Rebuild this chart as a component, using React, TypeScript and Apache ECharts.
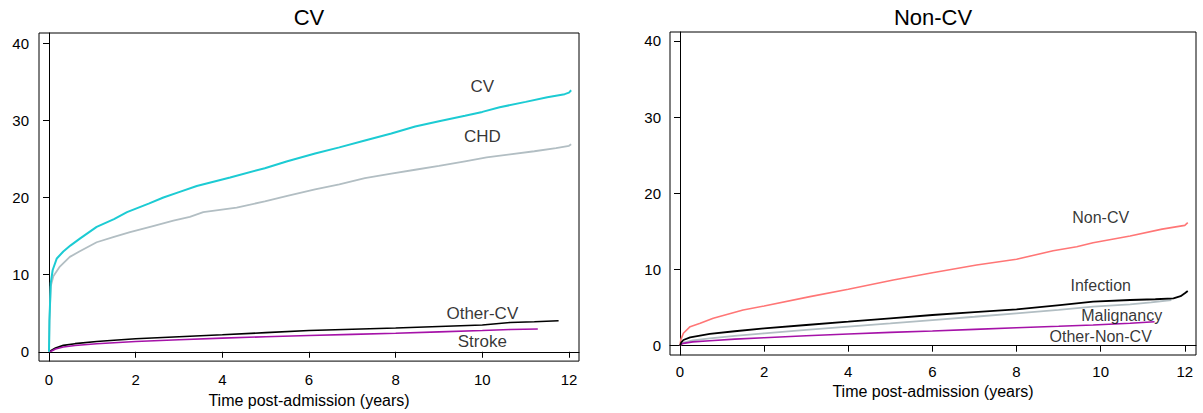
import React, { useEffect, useRef } from "react";
import * as echarts from "echarts";

// ---- Data (cumulative incidence, %) ----
const xTicks = [0, 2, 4, 6, 8, 10, 12];
const yTicks = [0, 10, 20, 30, 40];

// Left panel: CV
const cvT = [0, 0.01, 0.04, 0.085, 0.18, 0.33, 0.5, 0.72, 1.1, 1.5, 1.8, 2.3, 2.64, 3.0, 3.41, 4.18, 4.98, 5.5, 6.14, 6.7, 7.29, 7.9, 8.45, 9.0, 9.6, 10.0, 10.4, 11.0, 11.5, 11.9, 12.0, 12.05];
const cvV = [0, 4.0, 8.9, 10.6, 12.1, 13.0, 13.8, 14.7, 16.2, 17.2, 18.1, 19.2, 20.0, 20.7, 21.5, 22.6, 23.8, 24.7, 25.7, 26.5, 27.4, 28.3, 29.2, 29.9, 30.6, 31.1, 31.7, 32.4, 33.0, 33.4, 33.6, 33.9];
const chdT = [0, 0.01, 0.04, 0.1, 0.25, 0.48, 0.7, 1.1, 1.5, 1.87, 2.4, 2.87, 3.25, 3.56, 4.33, 4.98, 5.5, 6.14, 6.7, 7.29, 7.9, 8.45, 9.0, 9.6, 10.1, 10.64, 11.2, 11.7, 12.0, 12.05];
const chdV = [0, 4.0, 8.5, 9.8, 11.05, 12.3, 13.0, 14.2, 14.9, 15.5, 16.3, 17.0, 17.5, 18.1, 18.7, 19.5, 20.2, 21.05, 21.7, 22.5, 23.1, 23.6, 24.1, 24.7, 25.2, 25.6, 26.0, 26.4, 26.7, 26.9];
const otherCvT = [0, 0.06, 0.15, 0.33, 0.6, 1.1, 1.5, 2, 3, 4, 5, 6, 7, 8, 9, 10, 10.64, 11.2, 11.76];
const otherCvV = [0, 0.2, 0.5, 0.83, 1.05, 1.34, 1.5, 1.68, 1.95, 2.2, 2.48, 2.75, 2.92, 3.09, 3.28, 3.47, 3.8, 3.9, 4.02];
const strokeT = [0, 0.06, 0.15, 0.33, 0.6, 1.1, 2, 3, 4, 5, 6, 7, 8, 9, 10, 10.64, 11.28];
const strokeV = [0, 0.1, 0.35, 0.61, 0.82, 1.04, 1.34, 1.55, 1.77, 1.95, 2.1, 2.25, 2.4, 2.58, 2.75, 2.88, 2.96];

// Right panel: Non-CV
const nonCvT = [0, 0.02, 0.08, 0.24, 0.48, 0.79, 1.5, 2, 3.09, 4, 5.07, 6, 7.05, 8, 8.87, 9.43, 9.82, 10.7, 11.46, 12.0, 12.07];
const nonCvV = [0, 0.8, 1.63, 2.5, 2.94, 3.6, 4.69, 5.21, 6.44, 7.4, 8.62, 9.58, 10.6, 11.34, 12.47, 13.0, 13.52, 14.4, 15.3, 15.8, 16.15];
const infT = [0, 0.03, 0.08, 0.24, 0.71, 1.3, 2, 3, 4, 5, 6, 7, 8, 9.03, 9.82, 10.7, 11.3, 11.73, 11.9, 12.0, 12.07];
const infV = [0, 0.45, 0.75, 1.1, 1.54, 1.9, 2.28, 2.72, 3.15, 3.6, 4.03, 4.4, 4.78, 5.34, 5.78, 6.0, 6.1, 6.22, 6.5, 6.88, 7.18];
const malT = [0, 0.03, 0.08, 0.3, 0.71, 1.3, 2, 3, 4, 5, 6, 7, 8, 9, 9.82, 10.7, 11.2, 11.68];
const malV = [0, 0.25, 0.4, 0.7, 0.97, 1.3, 1.63, 2.07, 2.5, 2.93, 3.37, 3.8, 4.25, 4.7, 5.12, 5.43, 5.7, 6.0];
const othNcT = [0, 0.03, 0.08, 0.3, 0.71, 1.3, 2, 3, 4, 5, 6, 7, 8, 9, 9.82, 10.7, 11.28];
const othNcV = [0, 0.18, 0.31, 0.5, 0.66, 0.86, 1.05, 1.3, 1.54, 1.75, 1.93, 2.15, 2.36, 2.55, 2.72, 2.94, 3.15];

// In-plot curve labels [time, value]
const leftLabels = ["CV", "CHD", "Other-CV", "Stroke"];
const leftLabelPos = [[10, 34.4], [10, 27.9], [10, 4.9], [10, 1.3]];
const rightLabels = ["Non-CV", "Infection", "Malignancy", "Other-Non-CV"];
const rightLabelPos = [[10, 16.86], [10, 7.84], [10.5, 4.03], [10, 1.27]];

const FONT = "'Liberation Sans', Arial, Helvetica, sans-serif";

const zip = (t: number[], v: number[]) => t.map((x, i) => [x, v[i]]);

export default function App() {
  const ref = useRef<HTMLDivElement>(null);
  useEffect(() => {
    document.body.style.margin = "0";
    if (!ref.current) return;
    const chart = echarts.init(ref.current, null, { renderer: "svg" });

    const xAxisBase = (gridIndex: number, min: number, max: number, gap: number, margin: number) => ({
      type: "value",
      gridIndex,
      min,
      max,
      name: "Time post-admission (years)",
      nameLocation: "middle",
      nameGap: gap,
      nameTextStyle: { fontSize: 16, color: "#000", fontFamily: FONT },
      axisLine: { show: true, lineStyle: { color: "#000", width: 1 } },
      axisTick: { show: true, length: 6, lineStyle: { color: "#000" }, customValues: xTicks },
      axisLabel: { fontSize: 15, color: "#000", fontFamily: FONT, margin, customValues: xTicks },
      splitLine: { show: false },
    });
    const yAxisBase = (gridIndex: number, min: number, max: number, margin: number) => ({
      type: "value",
      gridIndex,
      min,
      max,
      axisLine: { show: true, lineStyle: { color: "#000", width: 1 } },
      axisTick: { show: true, length: 6, lineStyle: { color: "#000" }, customValues: yTicks },
      axisLabel: { fontSize: 15, color: "#000", fontFamily: FONT, margin, customValues: yTicks },
      splitLine: { show: false },
    });

    const line = (name: string, t: number[], v: number[], color: string, idx: number, width = 1.6) => ({
      type: "line",
      name,
      xAxisIndex: idx,
      yAxisIndex: idx,
      data: zip(t, v),
      showSymbol: false,
      symbol: "none",
      lineStyle: { color, width },
      itemStyle: { color },
      z: 3,
    });

    const labelSeries = (names: string[], pos: number[][], idx: number, fontSize: number) => ({
      type: "scatter",
      xAxisIndex: idx,
      yAxisIndex: idx,
      symbolSize: 1,
      itemStyle: { color: "rgba(0,0,0,0)" },
      data: pos.map((p, i) => ({ value: p, name: names[i] })),
      label: {
        show: true,
        position: "inside",
        formatter: (p: any) => p.name,
        color: "#000",
        fontSize,
        fontFamily: FONT,
      },
      silent: true,
      z: 5,
    });

    chart.setOption({
      animation: false,
      backgroundColor: "#fff",
      title: [
        { text: "CV", left: 309, top: 6, textAlign: "left", padding: 0, textStyle: { fontSize: 22, fontWeight: "normal", color: "#000", fontFamily: FONT } },
        { text: "Non-CV", left: 933, top: 6, textAlign: "left", padding: 0, textStyle: { fontSize: 22, fontWeight: "normal", color: "#000", fontFamily: FONT } },
      ].map((t) => ({ ...t, textAlign: "center" })),
      grid: [
        { left: 39, top: 33, width: 540, height: 333, show: true, borderColor: "#000", borderWidth: 1, backgroundColor: "#fff" },
        { left: 670, top: 32, width: 526, height: 323, show: true, borderColor: "#000", borderWidth: 1, backgroundColor: "#fff" },
      ],
      xAxis: [xAxisBase(0, -0.231, 12.231, 26, 11), xAxisBase(1, -0.238, 12.266, 25, 9)],
      yAxis: [yAxisBase(0, -1.21, 41.33, 10), yAxisBase(1, -1.22, 41.18, 9)],
      series: [
        line("Other-CV", otherCvT, otherCvV, "#000000", 0, 1.6),
        line("Stroke", strokeT, strokeV, "#A512A8", 0, 1.6),
        line("CHD", chdT, chdV, "#B2BEC3", 0, 1.8),
        line("CV", cvT, cvV, "#1CCBD3", 0, 2),
        labelSeries(leftLabels, leftLabelPos, 0, 17),
        line("Non-CV", nonCvT, nonCvV, "#FF7676", 1, 1.6),
        line("Malignancy", malT, malV, "#B2BEC3", 1, 1.8),
        line("Other-Non-CV", othNcT, othNcV, "#A512A8", 1, 1.6),
        line("Infection", infT, infV, "#000000", 1, 1.8),
        labelSeries(rightLabels, rightLabelPos, 1, 16),
      ],
    });
    return () => chart.dispose();
  }, []);
  return <div ref={ref} style={{ width: 1203, height: 413 }} />;
}
